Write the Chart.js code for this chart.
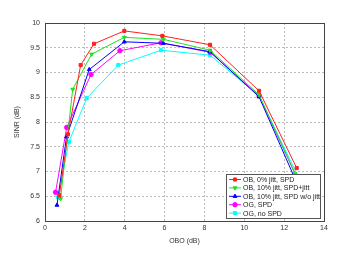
<!DOCTYPE html>
<html>
<head>
<meta charset="utf-8">
<script src="https://cdn.jsdelivr.net/npm/chart.js@4/dist/chart.umd.min.js"></script>
<style>
  html, body { margin: 0; padding: 0; background: #fff; }
  canvas { display: block; }
</style>
</head>
<body>
<canvas id="sinrChart" width="363" height="255"></canvas>
<script>
// series data (OBO in dB, SINR in dB)
const seriesLabels = ['OB, 0% jitt, SPD', 'OB, 10% jitt, SPD+jitt', 'OB, 10% jitt, SPD w/o jitt', 'OG, SPD', 'OG, no SPD'];

const redX = [0.72, 1.15, 1.79, 2.46, 3.98, 5.89, 8.28, 10.74, 12.63];
const redY = [6.52, 7.75, 9.15, 9.58, 9.84, 9.74, 9.56, 8.63, 7.07];

const greenX = [0.78, 1.39, 2.34, 3.98, 5.94, 8.28, 10.74, 12.55];
const greenY = [6.45, 8.66, 9.37, 9.71, 9.67, 9.45, 8.55, 6.95];

const blueX = [0.6, 1.08, 2.22, 3.98, 5.94, 8.28, 10.74, 12.46];
const blueY = [6.32, 7.7, 9.06, 9.62, 9.59, 9.42, 8.51, 6.93];

const magentaX = [0.53, 1.09, 2.31, 3.76, 5.82, 8.28, 10.74, 12.6];
const magentaY = [6.58, 7.89, 8.96, 9.44, 9.6, 9.41, 8.53, 6.91];

const cyanX = [0.66, 1.2, 2.09, 3.68, 5.82, 8.28, 10.74, 12.75];
const cyanY = [6.48, 7.6, 8.48, 9.15, 9.45, 9.35, 8.53, 6.86];

const xTicks = [0, 2, 4, 6, 8, 10, 12, 14];
const yTicks = [6, 6.5, 7, 7.5, 8, 8.5, 9, 9.5, 10];

const toPoints = (xs, ys) => xs.map((x, i) => ({ x: x, y: ys[i] }));

function makeSet(label, xs, ys, color, style, rotation) {
    return {
        label: label,
        data: toPoints(xs, ys),
        borderColor: color,
        backgroundColor: color,
        borderWidth: 1,
        pointStyle: style,
        pointRotation: rotation || 0,
        pointRadius: 2.2,
        pointBorderWidth: 1,
        tension: 0
    };
}

// legend drawn inside the plot, bottom right
const boxLegend = {
    id: 'boxLegend',
    afterDraw(chart) {
        const ctx = chart.ctx;
        const sets = chart.data.datasets;
        const left = 226, top = 174, w = 94, rowH = 8.4;
        const h = sets.length * rowH + 2;
        ctx.save();
        ctx.fillStyle = '#fff';
        ctx.fillRect(left, top, w, h);
        ctx.strokeStyle = '#555';
        ctx.lineWidth = 1;
        ctx.strokeRect(left + 0.5, top + 0.5, w, h);
        ctx.font = '7px "Liberation Sans", Arial, sans-serif';
        ctx.textBaseline = 'middle';
        sets.forEach((ds, i) => {
            const cy = top + 5.5 + i * rowH;
            ctx.strokeStyle = ds.borderColor;
            ctx.beginPath();
            ctx.moveTo(left + 3, cy);
            ctx.lineTo(left + 15, cy);
            ctx.stroke();
            ctx.fillStyle = ds.backgroundColor;
            Chart.helpers.drawPoint(ctx, {
                pointStyle: ds.pointStyle,
                rotation: ds.pointRotation,
                radius: 2.2,
                borderWidth: 1
            }, left + 9, cy);
            ctx.fillStyle = '#222';
            ctx.fillText(ds.label, left + 17, cy + 0.5);
        });
        ctx.restore();
    }
};

const tickFont = { family: '"Liberation Sans", Arial, sans-serif', size: 7 };

new Chart(document.getElementById('sinrChart').getContext('2d'), {
    type: 'line',
    data: {
        datasets: [
            makeSet(seriesLabels[0], redX, redY, '#ff2020', 'rect'),
            makeSet(seriesLabels[1], greenX, greenY, '#20e020', 'triangle', 180),
            makeSet(seriesLabels[2], blueX, blueY, '#0000ff', 'triangle'),
            makeSet(seriesLabels[3], magentaX, magentaY, '#ff00ff', 'circle'),
            makeSet(seriesLabels[4], cyanX, cyanY, '#00ffff', 'rect')
        ]
    },
    options: {
        responsive: false,
        animation: false,
        layout: { padding: { top: 23, right: 39, left: 13, bottom: 10 } },
        plugins: {
            legend: { display: false },
            tooltip: { enabled: false }
        },
        scales: {
            x: {
                type: 'linear',
                min: 0,
                max: 14,
                afterBuildTicks: s => { s.ticks = xTicks.map(v => ({ value: v })); },
                afterFit: s => { s.height = 24; },
                ticks: { font: tickFont, color: '#333', padding: 3, maxRotation: 0, callback: v => String(v) },
                grid: { color: '#bbbbbb', drawTicks: false },
                border: { color: '#444', width: 1, dash: [2, 2] },
                title: {
                    display: true,
                    text: 'OBO (dB)',
                    font: tickFont,
                    color: '#333',
                    padding: { top: 2, bottom: 0 }
                }
            },
            y: {
                type: 'linear',
                min: 6,
                max: 10,
                afterBuildTicks: s => { s.ticks = yTicks.map(v => ({ value: v })); },
                afterFit: s => { s.width = 32; },
                ticks: { font: tickFont, color: '#333', padding: 5, callback: v => String(v) },
                grid: { color: '#bbbbbb', drawTicks: false },
                border: { color: '#444', width: 1, dash: [2, 2] },
                title: {
                    display: true,
                    text: 'SINR (dB)',
                    font: tickFont,
                    color: '#333',
                    padding: { top: 0, bottom: 0 }
                }
            }
        }
    },
    plugins: [boxLegend, {
        id: 'frame',
        afterDatasetsDraw(chart) {
            const a = chart.chartArea;
            const ctx = chart.ctx;
            ctx.save();
            ctx.strokeStyle = '#444';
            ctx.lineWidth = 1;
            ctx.strokeRect(Math.round(a.left) + 0.5, Math.round(a.top) + 0.5,
                Math.round(a.right - a.left), Math.round(a.bottom - a.top));
            ctx.restore();
        }
    }]
});
</script>
</body>
</html>
